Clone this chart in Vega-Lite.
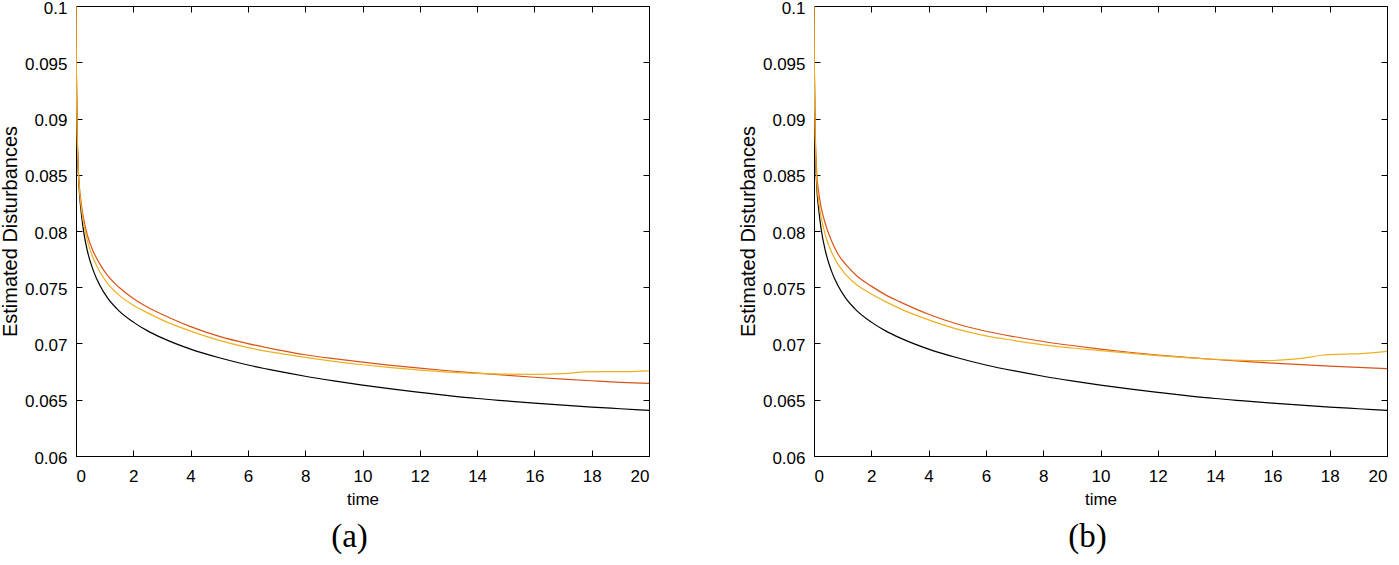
{
  "$schema": "https://vega.github.io/schema/vega-lite/v6.json",
  "autosize": {"type": "pad"},
  "padding": {"left": 0, "top": -1, "right": 5, "bottom": 0},
  "background": "white",
  "config": {
    "font": "Liberation Sans",
    "view": {"stroke": null},
    "concat": {"spacing": 86},
    "axis": {
      "grid": false,
      "domainColor": "#000000",
      "tickColor": "#000000",
      "labelColor": "#000000",
      "titleColor": "#000000",
      "labelFontSize": 17,
      "titleFontSize": 17,
      "titleFontWeight": "normal",
      "labelFont": "Liberation Sans",
      "titleFont": "Liberation Sans",
      "tickSize": -6,
      "domainWidth": 1,
      "tickWidth": 1
    }
  },
  "data": {"values": [
    {"p":"a","s":"black","t":0,"v":0.1},{"p":"a","s":"black","t":0.01,"v":0.095},{"p":"a","s":"black","t":0.03,"v":0.09},{"p":"a","s":"black","t":0.06,"v":0.0866},{"p":"a","s":"black","t":0.1,"v":0.0842},{"p":"a","s":"black","t":0.16,"v":0.0822},{"p":"a","s":"black","t":0.26,"v":0.08006},{"p":"a","s":"black","t":0.4,"v":0.0782},{"p":"a","s":"black","t":0.6,"v":0.0765},{"p":"a","s":"black","t":0.84,"v":0.07513},{"p":"a","s":"black","t":1.1,"v":0.07405},{"p":"a","s":"black","t":1.5,"v":0.0729},{"p":"a","s":"black","t":2,"v":0.0719},{"p":"a","s":"black","t":2.5,"v":0.07112},{"p":"a","s":"black","t":3,"v":0.0705},{"p":"a","s":"black","t":4,"v":0.0695},{"p":"a","s":"black","t":5,"v":0.06873},{"p":"a","s":"black","t":6,"v":0.06809},{"p":"a","s":"black","t":7,"v":0.06756},{"p":"a","s":"black","t":8,"v":0.06709},{"p":"a","s":"black","t":9,"v":0.06668},{"p":"a","s":"black","t":10,"v":0.0663},{"p":"a","s":"black","t":11,"v":0.06596},{"p":"a","s":"black","t":12,"v":0.06566},{"p":"a","s":"black","t":13,"v":0.06537},{"p":"a","s":"black","t":14,"v":0.06511},{"p":"a","s":"black","t":15,"v":0.0649},{"p":"a","s":"black","t":16,"v":0.0647},{"p":"a","s":"black","t":17,"v":0.06452},{"p":"a","s":"black","t":18,"v":0.06435},{"p":"a","s":"black","t":19,"v":0.0642},{"p":"a","s":"black","t":20,"v":0.06405},
    {"p":"a","s":"red","t":0,"v":0.1},{"p":"a","s":"red","t":0.01,"v":0.0952},{"p":"a","s":"red","t":0.03,"v":0.0903},{"p":"a","s":"red","t":0.06,"v":0.0869},{"p":"a","s":"red","t":0.1,"v":0.0846},{"p":"a","s":"red","t":0.16,"v":0.0829},{"p":"a","s":"red","t":0.26,"v":0.08116},{"p":"a","s":"red","t":0.4,"v":0.0796},{"p":"a","s":"red","t":0.6,"v":0.0782},{"p":"a","s":"red","t":0.84,"v":0.07703},{"p":"a","s":"red","t":1.1,"v":0.07605},{"p":"a","s":"red","t":1.5,"v":0.075},{"p":"a","s":"red","t":2,"v":0.074},{"p":"a","s":"red","t":2.5,"v":0.07322},{"p":"a","s":"red","t":3,"v":0.0726},{"p":"a","s":"red","t":4,"v":0.0715},{"p":"a","s":"red","t":5,"v":0.07063},{"p":"a","s":"red","t":6,"v":0.06999},{"p":"a","s":"red","t":7,"v":0.06946},{"p":"a","s":"red","t":8,"v":0.069},{"p":"a","s":"red","t":9,"v":0.06865},{"p":"a","s":"red","t":10,"v":0.06834},{"p":"a","s":"red","t":11,"v":0.06806},{"p":"a","s":"red","t":12,"v":0.06781},{"p":"a","s":"red","t":13,"v":0.06758},{"p":"a","s":"red","t":14,"v":0.06737},{"p":"a","s":"red","t":15,"v":0.06718},{"p":"a","s":"red","t":16,"v":0.067},{"p":"a","s":"red","t":17,"v":0.06684},{"p":"a","s":"red","t":18,"v":0.06669},{"p":"a","s":"red","t":19,"v":0.06655},{"p":"a","s":"red","t":20,"v":0.06645},
    {"p":"a","s":"yellow","t":0,"v":0.1},{"p":"a","s":"yellow","t":0.01,"v":0.0951},{"p":"a","s":"yellow","t":0.03,"v":0.0902},{"p":"a","s":"yellow","t":0.06,"v":0.0867},{"p":"a","s":"yellow","t":0.1,"v":0.0844},{"p":"a","s":"yellow","t":0.16,"v":0.0826},{"p":"a","s":"yellow","t":0.26,"v":0.08076},{"p":"a","s":"yellow","t":0.4,"v":0.0791},{"p":"a","s":"yellow","t":0.6,"v":0.0776},{"p":"a","s":"yellow","t":0.84,"v":0.07633},{"p":"a","s":"yellow","t":1.1,"v":0.07535},{"p":"a","s":"yellow","t":1.5,"v":0.0743},{"p":"a","s":"yellow","t":2,"v":0.0734},{"p":"a","s":"yellow","t":2.5,"v":0.07272},{"p":"a","s":"yellow","t":3,"v":0.0721},{"p":"a","s":"yellow","t":4,"v":0.0711},{"p":"a","s":"yellow","t":5,"v":0.07028},{"p":"a","s":"yellow","t":6,"v":0.06964},{"p":"a","s":"yellow","t":7,"v":0.06916},{"p":"a","s":"yellow","t":8,"v":0.06876},{"p":"a","s":"yellow","t":9,"v":0.06841},{"p":"a","s":"yellow","t":10,"v":0.06811},{"p":"a","s":"yellow","t":11,"v":0.06785},{"p":"a","s":"yellow","t":12,"v":0.06763},{"p":"a","s":"yellow","t":13,"v":0.06746},{"p":"a","s":"yellow","t":14,"v":0.06734},{"p":"a","s":"yellow","t":15,"v":0.06727},{"p":"a","s":"yellow","t":16,"v":0.06726},{"p":"a","s":"yellow","t":17,"v":0.06733},{"p":"a","s":"yellow","t":17.8,"v":0.06747},{"p":"a","s":"yellow","t":18.5,"v":0.0675},{"p":"a","s":"yellow","t":19.2,"v":0.0675},{"p":"a","s":"yellow","t":20,"v":0.06757},
    {"p":"b","s":"black","t":0,"v":0.1},{"p":"b","s":"black","t":0.01,"v":0.0948},{"p":"b","s":"black","t":0.03,"v":0.0895},{"p":"b","s":"black","t":0.06,"v":0.0862},{"p":"b","s":"black","t":0.1,"v":0.0838},{"p":"b","s":"black","t":0.16,"v":0.082},{"p":"b","s":"black","t":0.26,"v":0.08},{"p":"b","s":"black","t":0.4,"v":0.0782},{"p":"b","s":"black","t":0.6,"v":0.0765},{"p":"b","s":"black","t":0.84,"v":0.07513},{"p":"b","s":"black","t":1.1,"v":0.07405},{"p":"b","s":"black","t":1.5,"v":0.0729},{"p":"b","s":"black","t":2,"v":0.0719},{"p":"b","s":"black","t":2.5,"v":0.07112},{"p":"b","s":"black","t":3,"v":0.0705},{"p":"b","s":"black","t":4,"v":0.0695},{"p":"b","s":"black","t":5,"v":0.06873},{"p":"b","s":"black","t":6,"v":0.06809},{"p":"b","s":"black","t":7,"v":0.06756},{"p":"b","s":"black","t":8,"v":0.06709},{"p":"b","s":"black","t":9,"v":0.06668},{"p":"b","s":"black","t":10,"v":0.0663},{"p":"b","s":"black","t":11,"v":0.06596},{"p":"b","s":"black","t":12,"v":0.06566},{"p":"b","s":"black","t":13,"v":0.06537},{"p":"b","s":"black","t":14,"v":0.06511},{"p":"b","s":"black","t":15,"v":0.0649},{"p":"b","s":"black","t":16,"v":0.0647},{"p":"b","s":"black","t":17,"v":0.06452},{"p":"b","s":"black","t":18,"v":0.06435},{"p":"b","s":"black","t":19,"v":0.0642},{"p":"b","s":"black","t":20,"v":0.06405},
    {"p":"b","s":"red","t":0,"v":0.1},{"p":"b","s":"red","t":0.01,"v":0.0954},{"p":"b","s":"red","t":0.03,"v":0.0906},{"p":"b","s":"red","t":0.06,"v":0.0873},{"p":"b","s":"red","t":0.1,"v":0.085},{"p":"b","s":"red","t":0.16,"v":0.0835},{"p":"b","s":"red","t":0.26,"v":0.082},{"p":"b","s":"red","t":0.4,"v":0.0806},{"p":"b","s":"red","t":0.6,"v":0.0792},{"p":"b","s":"red","t":0.84,"v":0.07793},{"p":"b","s":"red","t":1.1,"v":0.07705},{"p":"b","s":"red","t":1.5,"v":0.076},{"p":"b","s":"red","t":2,"v":0.0751},{"p":"b","s":"red","t":2.5,"v":0.07432},{"p":"b","s":"red","t":3,"v":0.0737},{"p":"b","s":"red","t":4,"v":0.0726},{"p":"b","s":"red","t":5,"v":0.07173},{"p":"b","s":"red","t":6,"v":0.07109},{"p":"b","s":"red","t":7,"v":0.0706},{"p":"b","s":"red","t":8,"v":0.07018},{"p":"b","s":"red","t":9,"v":0.06982},{"p":"b","s":"red","t":10,"v":0.0695},{"p":"b","s":"red","t":11,"v":0.06922},{"p":"b","s":"red","t":12,"v":0.06898},{"p":"b","s":"red","t":13,"v":0.06877},{"p":"b","s":"red","t":14,"v":0.06858},{"p":"b","s":"red","t":15,"v":0.06841},{"p":"b","s":"red","t":16,"v":0.06826},{"p":"b","s":"red","t":17,"v":0.06812},{"p":"b","s":"red","t":18,"v":0.06799},{"p":"b","s":"red","t":19,"v":0.06787},{"p":"b","s":"red","t":20,"v":0.06776},
    {"p":"b","s":"yellow","t":0,"v":0.1},{"p":"b","s":"yellow","t":0.01,"v":0.0952},{"p":"b","s":"yellow","t":0.03,"v":0.0902},{"p":"b","s":"yellow","t":0.06,"v":0.0866},{"p":"b","s":"yellow","t":0.1,"v":0.0842},{"p":"b","s":"yellow","t":0.16,"v":0.0827},{"p":"b","s":"yellow","t":0.26,"v":0.0811},{"p":"b","s":"yellow","t":0.4,"v":0.0796},{"p":"b","s":"yellow","t":0.6,"v":0.0782},{"p":"b","s":"yellow","t":0.84,"v":0.07703},{"p":"b","s":"yellow","t":1.1,"v":0.07615},{"p":"b","s":"yellow","t":1.5,"v":0.0752},{"p":"b","s":"yellow","t":2,"v":0.0744},{"p":"b","s":"yellow","t":2.5,"v":0.07372},{"p":"b","s":"yellow","t":3,"v":0.0731},{"p":"b","s":"yellow","t":4,"v":0.0721},{"p":"b","s":"yellow","t":5,"v":0.07128},{"p":"b","s":"yellow","t":6,"v":0.07068},{"p":"b","s":"yellow","t":7,"v":0.07026},{"p":"b","s":"yellow","t":8,"v":0.06988},{"p":"b","s":"yellow","t":9,"v":0.0696},{"p":"b","s":"yellow","t":10,"v":0.06936},{"p":"b","s":"yellow","t":11,"v":0.06914},{"p":"b","s":"yellow","t":12,"v":0.06893},{"p":"b","s":"yellow","t":13,"v":0.06875},{"p":"b","s":"yellow","t":14,"v":0.0686},{"p":"b","s":"yellow","t":15,"v":0.0685},{"p":"b","s":"yellow","t":15.5,"v":0.06847},{"p":"b","s":"yellow","t":16,"v":0.06849},{"p":"b","s":"yellow","t":16.5,"v":0.06856},{"p":"b","s":"yellow","t":17,"v":0.06868},{"p":"b","s":"yellow","t":17.8,"v":0.06898},{"p":"b","s":"yellow","t":18.5,"v":0.06905},{"p":"b","s":"yellow","t":19.2,"v":0.06912},{"p":"b","s":"yellow","t":20,"v":0.0693}
  ]},
  "hconcat": [
    {
      "width": 573, "height": 450,
      "title": {"text": "(a)", "orient": "bottom", "font": "Liberation Serif", "fontSize": 33, "fontWeight": "normal", "color": "#000000", "offset": 14, "anchor": "middle", "dx": -13},
      "transform": [{"filter": "datum.p === 'a'"}],
      "layer": [
        {
          "mark": {"type": "line", "strokeWidth": 1.2, "interpolate": "monotone", "clip": true},
          "encoding": {
            "x": {"field": "t", "type": "quantitative", "scale": {"domain": [0, 20], "nice": false, "zero": false},
                  "axis": {"orient": "bottom", "title": "time", "values": [0,2,4,6,8,10,12,14,16,18,20], "labelPadding": 18, "titlePadding": 7}},
            "y": {"field": "v", "type": "quantitative", "scale": {"domain": [0.06, 0.1], "nice": false, "zero": false},
                  "axis": {"orient": "left", "title": "Estimated Disturbances", "titleFontSize": 20, "values": [0.06,0.065,0.07,0.075,0.08,0.085,0.09,0.095,0.1], "format": "~g", "labelPadding": 15, "labelOffset": 2, "titlePadding": 4}},
            "color": {"field": "s", "type": "nominal", "scale": {"domain": ["black","red","yellow"], "range": ["#000000","#D95319","#EDB120"]}, "legend": null}
          }
        },
        {
          "mark": {"type": "point", "opacity": 0},
          "encoding": {
            "x": {"field": "t", "type": "quantitative", "axis": {"orient": "top", "title": null, "labels": false, "values": [0,2,4,6,8,10,12,14,16,18,20]}},
            "y": {"field": "v", "type": "quantitative", "axis": {"orient": "right", "title": null, "labels": false, "values": [0.06,0.065,0.07,0.075,0.08,0.085,0.09,0.095,0.1]}}
          }
        }
      ],
      "resolve": {"axis": {"x": "independent", "y": "independent"}}
    },
    {
      "width": 573, "height": 450,
      "title": {"text": "(b)", "orient": "bottom", "font": "Liberation Serif", "fontSize": 33, "fontWeight": "normal", "color": "#000000", "offset": 14, "anchor": "middle", "dx": -13},
      "transform": [{"filter": "datum.p === 'b'"}],
      "layer": [
        {
          "mark": {"type": "line", "strokeWidth": 1.2, "interpolate": "monotone", "clip": true},
          "encoding": {
            "x": {"field": "t", "type": "quantitative", "scale": {"domain": [0, 20], "nice": false, "zero": false},
                  "axis": {"orient": "bottom", "title": "time", "values": [0,2,4,6,8,10,12,14,16,18,20], "labelPadding": 18, "titlePadding": 7}},
            "y": {"field": "v", "type": "quantitative", "scale": {"domain": [0.06, 0.1], "nice": false, "zero": false},
                  "axis": {"orient": "left", "title": "Estimated Disturbances", "titleFontSize": 20, "values": [0.06,0.065,0.07,0.075,0.08,0.085,0.09,0.095,0.1], "format": "~g", "labelPadding": 15, "labelOffset": 2, "titlePadding": 4}},
            "color": {"field": "s", "type": "nominal", "scale": {"domain": ["black","red","yellow"], "range": ["#000000","#D95319","#EDB120"]}, "legend": null}
          }
        },
        {
          "mark": {"type": "point", "opacity": 0},
          "encoding": {
            "x": {"field": "t", "type": "quantitative", "axis": {"orient": "top", "title": null, "labels": false, "values": [0,2,4,6,8,10,12,14,16,18,20]}},
            "y": {"field": "v", "type": "quantitative", "axis": {"orient": "right", "title": null, "labels": false, "values": [0.06,0.065,0.07,0.075,0.08,0.085,0.09,0.095,0.1]}}
          }
        }
      ],
      "resolve": {"axis": {"x": "independent", "y": "independent"}}
    }
  ]
}
